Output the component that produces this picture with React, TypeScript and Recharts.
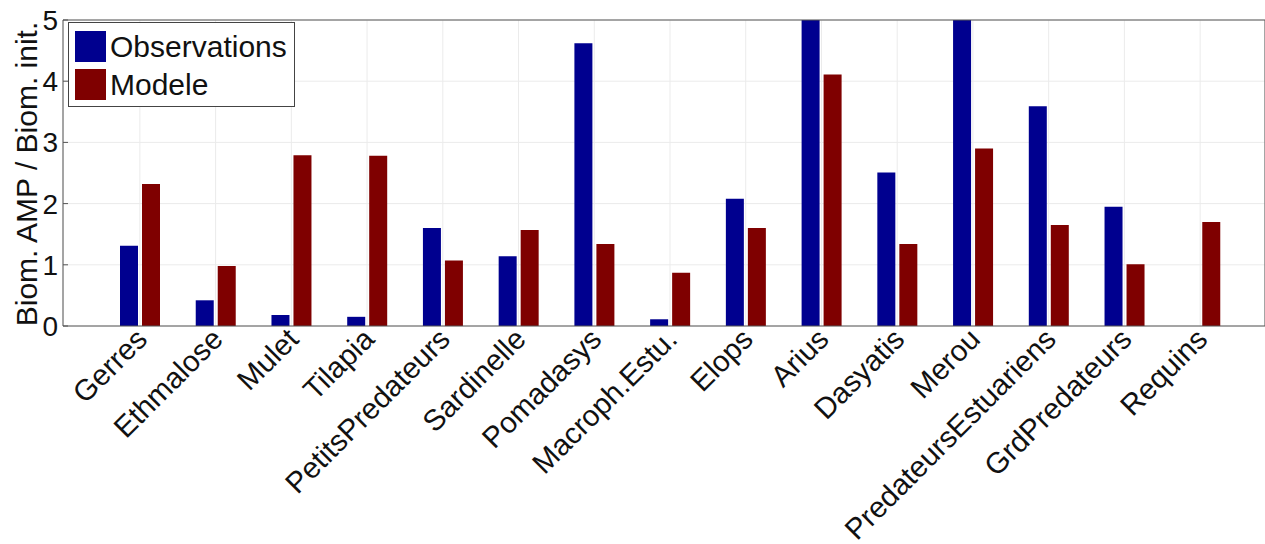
import { BarChart, Bar, XAxis, YAxis, CartesianGrid, Legend } from 'recharts';

const categories = [
  'Gerres', 'Ethmalose', 'Mulet', 'Tilapia', 'PetitsPredateurs', 'Sardinelle', 'Pomadasys',
  'Macroph.Estu.', 'Elops', 'Arius', 'Dasyatis', 'Merou', 'PredateursEstuariens', 'GrdPredateurs', 'Requins',
];
// Arius and Merou observations go past the top of the axis (clipped at 5)
const observations = [1.31, 0.42, 0.18, 0.15, 1.6, 1.14, 4.62, 0.11, 2.08, 5.5, 2.51, 5.5, 3.59, 1.95, 0];
const modele = [2.32, 0.98, 2.79, 2.78, 1.07, 1.57, 1.34, 0.87, 1.6, 4.11, 1.34, 2.9, 1.65, 1.01, 1.7];
const yTicks = [0, 1, 2, 3, 4, 5];

const FONT = '"Liberation Sans", Arial, Helvetica, sans-serif';
const BLUE = '#00008f';
const RED = '#7f0000';
const AXIS = '#555';

const data = categories.map((name, i) => ({ name, obs: observations[i], mod: modele[i] }));

const XTick = ({ x, y, payload }: any) => (
  <g transform={`translate(${x + 9},${y + 15}) rotate(-45)`}>
    <text x={0} y={0} textAnchor="end" fontFamily={FONT} fontSize={29.5} fill="#111">
      {payload.value}
    </text>
  </g>
);

const YTick = ({ x, y, payload }: any) => (
  <g>
    <line x1={x + 5} x2={x + 10} y1={y} y2={y} stroke={AXIS} />
    <text x={x} y={y} dy={10} textAnchor="end" fontFamily={FONT} fontSize={28} fill="#111">
      {payload.value}
    </text>
  </g>
);

const YLabel = ({ viewBox }: any) => {
  const cx = 37;
  const cy = viewBox.y + viewBox.height / 2 + 1;
  return (
    <text x={cx} y={cy} transform={`rotate(-90, ${cx}, ${cy})`} textAnchor="middle" fontFamily={FONT} fontSize={30} fill="#111">
      Biom. AMP / Biom. init.
    </text>
  );
};

const LegendBox = () => (
  <div
    style={{
      width: 227,
      height: 85,
      boxSizing: 'border-box',
      border: '1px solid #444',
      background: '#fff',
      fontFamily: FONT,
      fontSize: 30,
      color: '#111',
      position: 'relative',
    }}
  >
    {[{ label: 'Observations', color: BLUE }, { label: 'Modele', color: RED }].map((item, i) => (
      <div key={item.label} style={{ position: 'absolute', left: 6, top: 8 + i * 38, height: 31, display: 'flex', alignItems: 'center' }}>
        <div style={{ width: 31, height: 31, background: item.color, marginRight: 4 }} />
        <span style={{ lineHeight: '31px' }}>{item.label}</span>
      </div>
    ))}
  </div>
);

const App = () => {
  return (
    <div style={{ position: 'absolute', left: 0, top: 0, background: '#fff' }}>
      <BarChart
        width={1265}
        height={544}
        data={data}
        margin={{ top: 20, right: 0, left: 0, bottom: 0 }}
        barSize={18}
        barGap={4}
      >
        <CartesianGrid stroke="#ebebeb" />
        <XAxis
          dataKey="name"
          interval={0}
          height={218}
          padding={{ left: 39, right: 27 }}
          tickLine={false}
          tickSize={0}
          tickMargin={0}
          stroke={AXIS}
          tick={<XTick />}
        />
        <XAxis
          xAxisId="top"
          dataKey="name"
          orientation="top"
          mirror
          interval={0}
          padding={{ left: 39, right: 27 }}
          tick={false}
          tickSize={8}
          stroke={AXIS}
        />
        <YAxis
          domain={[0, 5]}
          ticks={yTicks}
          allowDataOverflow
          width={63}
          tickLine={false}
          tickSize={5}
          tickMargin={0}
          stroke={AXIS}
          tick={<YTick />}
          label={<YLabel />}
        />
        <YAxis
          yAxisId="right"
          orientation="right"
          mirror
          domain={[0, 5]}
          ticks={yTicks}
          allowDataOverflow
          tick={false}
          tickSize={5}
          stroke={AXIS}
        />
        <Legend
          layout="vertical"
          align="center"
          verticalAlign="middle"
          content={<LegendBox />}
          wrapperStyle={{ position: 'absolute', left: 68, top: 22, width: 227 }}
        />
        <Bar dataKey="obs" name="Observations" fill={BLUE} isAnimationActive={false} />
        <Bar dataKey="mod" name="Modele" fill={RED} isAnimationActive={false} />
      </BarChart>
    </div>
  );
};

export default App;
